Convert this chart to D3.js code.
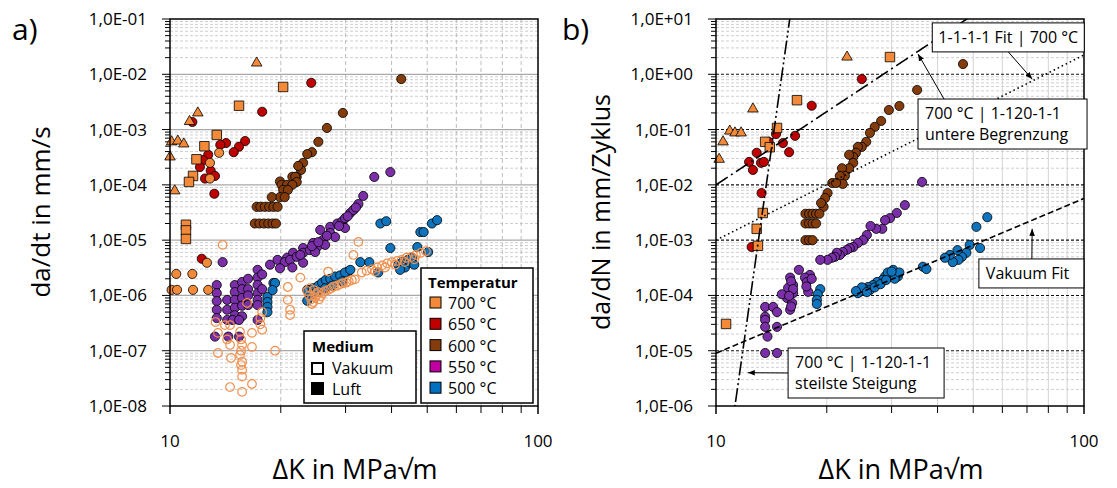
<!DOCTYPE html>
<html>
<head>
<meta charset="utf-8">
<script src="https://cdn.jsdelivr.net/npm/d3@7"></script>
<style>
  body { margin: 0; background: #fff; }
  svg { display: block; }
  text { font-family: "Open Sans", "DejaVu Sans", sans-serif; fill: #000; }
</style>
</head>
<body>
<svg id="chart" width="1117" height="488"></svg>
<script>
// ---------- axis ticks ----------
const kTicks = [10, 100];
const rateTicksA = [1e-8, 1e-7, 1e-6, 1e-5, 1e-4, 1e-3, 1e-2, 1e-1];
const rateTicksB = [1e-6, 1e-5, 1e-4, 1e-3, 1e-2, 1e-1, 1e0, 1e1];

// ---------- a) da/dt [ΔK in MPa√m, da/dt in mm/s] ----------
const dtTri700 = [[17.2,1.6e-2],[11.9,2.0e-3],[11.3,1.4e-3],[10.1,6.0e-4],[10.5,6.2e-4],[10.9,5.5e-4],[10.0,3.2e-4],[10.3,7.8e-5]];
const dtSq700 = [[20.3,5.9e-3],[15.4,2.7e-3],[13.4,8.0e-4],[12.4,5.0e-4],[11.8,2.9e-4],[11.55,1.45e-4],[11.26,1.13e-4],[11.05,1.9e-5],[11.05,1.5e-5],[11.05,1.05e-5]];
const dtAir700 = [[13.6,3.8e-4],[12.84,2.5e-4],[12.84,1.3e-4],[12.6,3.9e-6],[10.4,2.45e-6],[11.5,2.45e-6],[10.1,1.26e-6],[10.45,1.26e-6],[11.55,1.26e-6],[12.7,1.26e-6]];
const dt650 = [[24.2,7.0e-3],[17.8,2.1e-3],[11.5,1.37e-3],[16.0,6.2e-4],[15.4,4.9e-4],[14.9,3.9e-4],[14.2,5.7e-4],[13.7,5.3e-4],[12.7,3.5e-4],[12.3,2.8e-4],[12.06,2.1e-4],[12.9,1.8e-4],[13.25,1.45e-4],[12.45,1.3e-4],[13.2,6.9e-5],[12.2,4.6e-6]];
const dt600 = [[42.5,8.2e-3],[29.5,2.0e-3],[26.7,1.07e-3],[25.3,6.0e-4],[24.3,3.9e-4],[23.6,3.6e-4],[23.0,2.5e-4],[22.7,1.86e-4],[22.3,2.2e-4],[22.1,1.4e-4],[21.5,1.4e-4],[21.9,1.4e-4],[22.1,1.13e-4],[19.9,1.15e-4],[20.1,1.0e-4],[20.8,1.0e-4],[21.5,1.0e-4],[20.3,8.1e-5],[20.9,8.1e-5],[19.9,6.0e-5],[18.9,6.0e-5],[20.5,6.0e-5],[17.2,4.0e-5],[17.6,4.0e-5],[18.1,4.0e-5],[18.6,4.0e-5],[19.1,4.0e-5],[19.6,4.0e-5],[17.0,2.0e-5],[17.5,2.0e-5],[18.0,2.0e-5],[18.5,2.0e-5],[19.0,2.0e-5],[19.4,2.0e-5]];
const dt550 = [[13.9,4.0e-6],[18.7,3.6e-6],[19.6,4.4e-6],[20.8,4.8e-6],[21.6,5.9e-6],[23.0,7.2e-6],[24.5,8.9e-6],[25.6,1.53e-5],[27.25,1.74e-5],[28.5,2.0e-5],[29.4,2.2e-5],[29.9,2.5e-5],[30.9,3.1e-5],[31.5,3.5e-5],[32.5,4.5e-5],[33.5,6.3e-5],[35.9,1.39e-4],[39.7,1.7e-4],
  [20.5,4.0e-6],[21.2,4.4e-6],[22.1,5.0e-6],[23.0,5.9e-6],[24.0,6.6e-6],[25.1,7.5e-6],[26.0,1.0e-5],[27.25,1.35e-5],[19.9,3.1e-6],[21.5,3.2e-6],[23.0,3.9e-6],[24.8,6.1e-6],[26.4,8.2e-6],[28.1,1.14e-5],[29.9,1.66e-5],
  [22.6,5.4e-6],[24.3,7.8e-6],[25.3,9.2e-6],[26.7,1.2e-5],[28.8,1.8e-5],[30.4,2.7e-5],[32.0,3.9e-5],
  [13.4,1.54e-6],[13.4,1.1e-6],[13.4,7.9e-7],[13.4,5.5e-7],[13.4,3.9e-7],[14.3,8.3e-7],[14.3,5.5e-7],[14.3,3.6e-7],
  [15.0,1.54e-6],[15.0,1.15e-6],[15.0,8.3e-7],[15.0,6.0e-7],[15.0,4.4e-7],[15.7,1.75e-6],[15.7,1.3e-6],[15.7,9.0e-7],[15.7,6.5e-7],[15.7,4.2e-7],
  [16.3,2.0e-6],[16.3,1.3e-6],[16.3,1.0e-6],[16.3,6.7e-7],[17.3,2.9e-6],[17.3,2.1e-6],[17.3,1.55e-6],[17.3,1.1e-6],[17.3,8.3e-7],[17.3,6.7e-7],
  [17.8,2.4e-6],[17.8,1.3e-6],[14.8,3.6e-7],[15.4,3.6e-7],[17.3,3.6e-7],[13.25,1.8e-7],[14.4,1.8e-7],[15.4,1.8e-7]];
const dt500 = [[37.3,2.0e-5],[38.7,2.2e-5],[47.9,1.4e-5],[48.9,1.4e-5],[51.5,2.0e-5],[53.2,2.3e-5],[39.7,7.2e-6],[32.9,4.0e-6],[34.8,4.0e-6],[47.0,7.5e-6],[50.3,6.1e-6],[30.5,2.7e-6],[36.8,2.6e-6],
  [41.7,3.6e-6],[42.8,4.0e-6],[43.5,3.2e-6],[44.3,4.4e-6],[45.0,3.9e-6],[45.5,4.8e-6],[46.1,3.6e-6],[42.2,2.9e-6],
  [19.1,1.68e-6],[19.3,1.68e-6],[18.4,9.4e-7],[18.4,7.6e-7],[18.4,6.2e-7],[18.4,5.0e-7],[19.0,1.25e-6],
  [23.6,1.26e-6],[24.0,1.0e-6],[24.5,1.35e-6],[25.3,1.5e-6],[25.9,1.7e-6],[26.5,1.9e-6],[27.25,2.0e-6],[28.1,2.2e-6],[29.0,2.3e-6],[29.9,2.6e-6],[30.9,2.9e-6],[25.0,1.15e-6],[26.4,1.35e-6],[27.6,1.5e-6],[29.4,1.8e-6],[23.6,8.0e-7]];
const dtVac700 = [[13.5,2.1e-7],[14.56,2.9e-7],[15.5,2.2e-7],[16.7,2.1e-7],[17.6,3.9e-7],[17.8,2.4e-7],[15.7,1.27e-7],[14.56,1.27e-7],[14.65,7.4e-8],[15.7,6.3e-8],[15.7,4.5e-8],[15.7,3.4e-8],[14.56,2.2e-8],[15.7,1.8e-8],[16.7,2.5e-8],[13.5,9.1e-8],[16.7,1.17e-7],[19.3,1.0e-7],
  [13.9,8.2e-6],[22.6,2.1e-6],[20.9,1.42e-6],[20.9,8.3e-7],[21.2,5.5e-7],[21.2,4.4e-7],[26.9,2.7e-6],[32.5,9.3e-6],[31.5,5.4e-6],
  [14.1,2.9e-7],[16.2,7.3e-7],[15.5,8.4e-8],[15.6,5.5e-8],[15.6,1.6e-7],[15.6,1.0e-7],[14.3,1.6e-7],[17.6,3.0e-7],[17.8,5.0e-7],[13.3,3.3e-7],
  [23.6,1.2e-6],[23.9,1.0e-6],[24.2,8.5e-7],[24.5,7.6e-7],[24.8,9.2e-7],[25.1,1.05e-6],[25.4,8.5e-7],[25.7,9.6e-7],[26.0,1.1e-6],[24.0,1.35e-6],[24.6,1.25e-6],[25.3,1.15e-6],[24.3,7.0e-7],[26.4,1.2e-6],
  [26.9,1.25e-6],[27.4,1.35e-6],[27.9,1.45e-6],[28.5,1.5e-6],[29.0,1.6e-6],[29.5,1.65e-6],[30.1,1.7e-6],[30.6,1.8e-6],[31.2,1.9e-6],[31.8,1.95e-6],
  [33.2,2.6e-6],[34.2,2.8e-6],[35.4,2.95e-6],[36.6,3.2e-6],[37.7,3.5e-6],[38.9,3.8e-6],[40.1,4.0e-6],[41.4,4.2e-6],[42.6,4.4e-6],[43.9,4.8e-6],[45.3,5.0e-6],[46.6,5.4e-6],[48.1,5.9e-6],[49.6,6.3e-6],[36.1,2.7e-6],[38.4,3.2e-6],[40.9,3.6e-6],[43.4,4.0e-6],[46.1,4.5e-6]];

// ---------- b) da/dN [ΔK in MPa√m, da/dN in mm/Zyklus] ----------
const dnTri700 = [[22.7,2.05],[12.6,0.236],[10.9,0.094],[11.26,0.087],[11.7,0.087],[10.45,0.060],[10.2,0.029]];
const dnSq700 = [[29.7,2.05],[16.6,0.34],[14.65,0.107],[13.6,0.060],[14.0,0.048],[13.4,3.1e-3],[12.9,1.6e-3],[13.0,7.9e-4],[10.65,3.05e-5]];
const dn650 = [[24.9,0.82],[18.2,0.27],[16.4,0.077],[15.2,0.057],[15.8,0.039],[14.56,0.083],[13.9,0.060],[12.9,0.038],[12.3,0.026],[12.6,0.0186],[13.25,0.025],[13.5,0.026],[13.3,7.1e-3],[12.5,7.5e-4]];
const dn600 = [[46.9,1.53],[35.2,0.52],[31.5,0.267],[29.5,0.226],[28.1,0.143],[27.0,0.112],[26.2,0.087],[25.6,0.060],[24.9,0.0485],[24.3,0.0485],[24.0,0.038],[23.6,0.032],[23.0,0.035],[23.6,0.025],[23.0,0.020],[22.0,0.020],[22.4,0.0145],[21.7,0.0145],[22.1,0.0104],[20.7,0.0108],[21.2,0.0108],[20.1,7.1e-3],[19.8,5.8e-3],[19.6,4.0e-3],[19.3,4.7e-3],
  [17.5,3.0e-3],[17.9,3.0e-3],[18.3,3.0e-3],[18.7,3.0e-3],[19.1,3.0e-3],[17.5,2.0e-3],[17.9,2.0e-3],[18.3,2.0e-3],[18.7,2.0e-3],[17.5,1.0e-3],[17.9,1.0e-3],[18.3,1.0e-3]];
const dn550 = [[36.3,0.0113],[32.6,4.3e-3],[31.0,3.1e-3],[29.7,2.5e-3],[28.8,2.3e-3],[28.3,1.6e-3],[27.25,1.6e-3],[26.3,1.8e-3],[25.7,1.24e-3],[25.1,1.0e-3],[24.3,8.9e-4],[23.6,7.5e-4],[23.1,7.2e-4],[22.7,6.7e-4],[22.1,6.1e-4],[21.7,5.4e-4],[21.3,5.9e-4],[21.05,5.0e-4],[20.65,4.8e-4],[20.1,4.4e-4],[19.2,4.4e-4],
  [16.8,2.9e-4],[18.0,2.35e-4],[17.45,2.1e-4],[17.65,1.75e-4],[17.8,1.16e-4],[15.9,2.1e-4],[16.2,1.54e-4],[15.7,1.37e-4],[16.2,1.1e-4],[15.6,9.0e-5],[16.1,7.3e-5],[15.9,5.5e-5],[15.1,1.05e-4],
  [13.6,6.2e-5],[14.3,6.2e-5],[14.65,5.0e-5],[13.6,4.1e-5],[13.6,3.6e-5],[13.6,2.7e-5],[14.65,2.7e-5],[13.8,1.8e-5],[13.6,9.1e-6],[14.65,9.1e-6],
  [16.0,1.8e-4],[16.2,1.3e-4],[15.8,9.8e-5],[16.0,6.3e-5],[18.2,2.0e-4],[17.6,1.45e-4]];
const dn500 = [[54.6,2.6e-3],[51.0,1.74e-3],[52.2,7.2e-4],[48.9,8.2e-4],[47.9,5.9e-4],[46.6,5.0e-4],[45.6,4.4e-4],[44.0,4.0e-4],[43.2,5.4e-4],[45.3,6.6e-4],[41.9,4.8e-4],[36.5,3.3e-4],[37.3,3.0e-4],
  [31.2,2.2e-4],[30.3,2.9e-4],[29.7,2.35e-4],[28.8,2.2e-4],[28.3,1.9e-4],[27.4,1.75e-4],[26.7,1.54e-4],[25.9,1.42e-4],[25.4,1.3e-4],[24.6,1.16e-4],[24.3,1.1e-4],
  [19.2,1.3e-4],[18.9,1.05e-4],[18.8,8.3e-5],[18.8,7.0e-5],[29.3,2.6e-4],[30.6,2.0e-4],[26.2,1.25e-4],[27.0,1.4e-4],[24.9,1.4e-4],[25.7,1.15e-4],[28.0,1.6e-4],[29.0,1.9e-4],[31.5,2.6e-4],[30.0,2.7e-4],[24.0,1.2e-4]];

// power-law lines da/dN = C * ΔK^m (drawn over the ΔK range)
const fitLines = [
  { name: "fit1111",    C: 1e-2 / Math.pow(10, 4.4),   m: 4.4,  dash: "14,4,2,4" },
  { name: "lowerBound", C: 1e-3 / Math.pow(10, 3.35),  m: 3.35, dash: "1.5,3" },
  { name: "vacuumFit",  C: 9e-6 / Math.pow(10, 2.8),   m: 2.8,  dash: "6,3" },
  { name: "steepest",   C: 1e-6 / Math.pow(11.26, 47), m: 47,   dash: "14,3,2,3,2,3" }
];

const temperatures = ["700 °C", "650 °C", "600 °C", "550 °C", "500 °C"];
const legendColors = ["#F28A3A", "#C00000", "#843C0C", "#C000A0", "#0070C0"];
const color = { t700: "#F28A3A", t650: "#C00000", t600: "#843C0C", t550: "#7A2FA8", t500: "#0E74BE", vac: "#F0904E" };

// ---------- drawing ----------
const svg = d3.select("#chart");
const PLOT_TOP = 19, PLOT_BOTTOM = 406, PLOT_W = 368;

function fmtRate(v) {
  const e = Math.round(Math.log10(v));
  const s = e < 0 ? "-" : "+";
  return "1,0E" + s + String(Math.abs(e)).padStart(2, "0");
}

function makePanel(opt) {
  const g = svg.append("g");
  const x = d3.scaleLog().domain([10, 100]).range([opt.left, opt.left + PLOT_W]);
  const y = d3.scaleLog().domain(opt.yDomain).range([PLOT_BOTTOM, PLOT_TOP]);
  const e0 = Math.round(Math.log10(opt.yDomain[0])), e1 = Math.round(Math.log10(opt.yDomain[1]));

  const minorY = [], majorY = [];
  for (let e = e0; e <= e1; e++) {
    majorY.push(Math.pow(10, e));
    if (e < e1) for (let m = 2; m <= 9; m++) minorY.push(m * Math.pow(10, e));
  }
  const minorX = d3.range(2, 10).map(m => m * 10);

  const grid = g.append("g");
  grid.selectAll(".gyminor").data(minorY).join("line")
    .attr("x1", x(10)).attr("x2", x(100))
    .attr("y1", d => y(d)).attr("y2", d => y(d))
    .attr("stroke", "#cfcfcf").attr("stroke-width", 1).attr("stroke-dasharray", "3,2");
  grid.selectAll(".gx").data(minorX).join("line")
    .attr("x1", d => x(d)).attr("x2", d => x(d))
    .attr("y1", PLOT_TOP).attr("y2", PLOT_BOTTOM)
    .attr("stroke", opt.vGridColor).attr("stroke-width", 1)
    .attr("stroke-dasharray", opt.vGridDash);
  grid.selectAll(".gymajor").data(majorY.slice(1, -1)).join("line")
    .attr("x1", x(10)).attr("x2", x(100))
    .attr("y1", d => y(d)).attr("y2", d => y(d))
    .attr("stroke", opt.majorColor).attr("stroke-width", opt.majorWidth)
    .attr("stroke-dasharray", opt.majorDash);

  // y ticks and labels
  const ax = g.append("g");
  ax.selectAll(".tmin").data(minorY).join("line")
    .attr("x1", x(10) - 5).attr("x2", x(10)).attr("y1", d => y(d)).attr("y2", d => y(d))
    .attr("stroke", "#000").attr("stroke-width", 1);
  ax.selectAll(".tmaj").data(majorY).join("line")
    .attr("x1", x(10) - 8).attr("x2", x(10)).attr("y1", d => y(d)).attr("y2", d => y(d))
    .attr("stroke", "#000").attr("stroke-width", 1);
  ax.selectAll(".ylab").data(opt.yTicks).join("text")
    .attr("x", x(10) - 23).attr("y", d => y(d) + 6)
    .attr("text-anchor", "end").attr("font-size", 17).text(fmtRate);

  // x ticks and labels
  ax.selectAll(".xt").data(minorX).join("line")
    .attr("x1", d => x(d)).attr("x2", d => x(d)).attr("y1", PLOT_BOTTOM).attr("y2", PLOT_BOTTOM + 7)
    .attr("stroke", "#000").attr("stroke-width", 1);
  ax.selectAll(".xtm").data(kTicks).join("line")
    .attr("x1", d => x(d)).attr("x2", d => x(d)).attr("y1", PLOT_BOTTOM).attr("y2", PLOT_BOTTOM + 8)
    .attr("stroke", "#000").attr("stroke-width", 1.5);
  ax.selectAll(".xlab").data(kTicks).join("text")
    .attr("x", d => x(d)).attr("y", 447).attr("text-anchor", "middle")
    .attr("font-size", 17).text(d => d);

  return { g, x, y };
}

function drawSeries(p, data, shape, fill, opts = {}) {
  const sym = d3.symbol().type(shape).size(opts.size || 66);
  p.g.append("g").selectAll("path").data(data).join("path")
    .attr("transform", d => `translate(${p.x(d[0])},${p.y(d[1])})`)
    .attr("d", sym)
    .attr("fill", fill)
    .attr("stroke", opts.stroke || "#000")
    .attr("stroke-width", opts.strokeWidth || 0.8);
}

function drawFrame(p) {
  const [x0, x1] = p.x.range();
  p.g.append("rect").attr("x", x0).attr("y", PLOT_TOP)
    .attr("width", x1 - x0).attr("height", PLOT_BOTTOM - PLOT_TOP)
    .attr("fill", "none").attr("stroke", "#000").attr("stroke-width", 1.5);
}

// ---------- panel a ----------
const A = makePanel({
  left: 170, yDomain: [1e-8, 1e-1], yTicks: rateTicksA,
  vGridColor: "#bdbdbd", vGridDash: "4,3",
  majorColor: "#a9a9a9", majorWidth: 1.3, majorDash: null
});
drawSeries(A, dt550, d3.symbolCircle, color.t550);
drawSeries(A, dt500, d3.symbolCircle, color.t500);
drawSeries(A, dt600, d3.symbolCircle, color.t600);
drawSeries(A, dt650, d3.symbolCircle, color.t650);
drawSeries(A, dtAir700, d3.symbolCircle, color.t700);
drawSeries(A, dtVac700, d3.symbolCircle, "none", { stroke: color.vac, strokeWidth: 1.2, size: 58 });
drawSeries(A, dtSq700, d3.symbolSquare, color.t700, { size: 90 });
drawSeries(A, dtTri700, d3.symbolTriangle, color.t700, { size: 48 });
drawFrame(A);

// ---------- panel b ----------
const B = makePanel({
  left: 716, yDomain: [1e-6, 1e1], yTicks: rateTicksB,
  vGridColor: "#d4d4d4", vGridDash: null,
  majorColor: "#111", majorWidth: 1.1, majorDash: "3,2"
});
const clipB = svg.append("clipPath").attr("id", "clipB");
clipB.append("rect").attr("x", B.x(10)).attr("y", PLOT_TOP).attr("width", PLOT_W).attr("height", PLOT_BOTTOM - PLOT_TOP);

drawSeries(B, dn550, d3.symbolCircle, color.t550);
drawSeries(B, dn500, d3.symbolCircle, color.t500);
drawSeries(B, dn600, d3.symbolCircle, color.t600);
drawSeries(B, dn650, d3.symbolCircle, color.t650);
drawSeries(B, dnSq700, d3.symbolSquare, color.t700, { size: 90 });
drawSeries(B, dnTri700, d3.symbolTriangle, color.t700, { size: 48 });

const kGrid = d3.range(0, 401).map(i => 10 * Math.pow(10, i / 400));
const lineGen = d3.line().x(d => B.x(d[0])).y(d => B.y(d[1]));
B.g.append("g").attr("clip-path", "url(#clipB)").selectAll("path").data(fitLines).join("path")
  .attr("d", f => lineGen(kGrid.map(k => [k, f.C * Math.pow(k, f.m)]).filter(d => d[1] > 1e-7 && d[1] < 1e2)))
  .attr("fill", "none").attr("stroke", "#000").attr("stroke-width", 1.6)
  .attr("stroke-dasharray", f => f.dash);
drawFrame(B);

// annotations in panel b (anchors in data units)
const notes = [
  { lines: ["1-1-1-1 Fit | 700 °C"], at: [38.7, 8.5], w: 152, h: 29, tail: "bottom", off: 76, tip: [72.3, 0.82], align: "middle" },
  { lines: ["700 °C | 1-120-1-1", "untere Begrenzung"], at: [35.4, 0.357], w: 169, h: 50, tail: "top", off: 26, tip: [35.4, 2.33], align: "start" },
  { lines: ["Vakuum Fit"], at: [51.8, 4.57e-4], w: 105, h: 29, tail: "top", off: 53, tip: [72.3, 1.6e-3], align: "start" },
  { lines: ["700 °C | 1-120-1-1", "steilste Steigung"], at: [15.7, 1.12e-5], w: 156, h: 50, tail: "left", off: 25, tip: [12.2, 4.0e-6], align: "start" }
];
const defs = svg.append("defs");
defs.append("marker").attr("id", "arrowHead").attr("viewBox", "0 0 10 10")
  .attr("refX", 10).attr("refY", 5).attr("markerWidth", 7).attr("markerHeight", 7)
  .attr("orient", "auto-start-reverse").attr("markerUnits", "userSpaceOnUse")
  .append("path").attr("d", "M0,1 L10,5 L0,9 Z").attr("fill", "#000");

const noteG = svg.append("g");
notes.forEach(n => {
  const bx = B.x(n.at[0]), by = B.y(n.at[1]);
  let tx, ty;
  if (n.tail === "bottom") { tx = bx + n.off; ty = by + n.h; }
  else if (n.tail === "top") { tx = bx + n.off; ty = by; }
  else { tx = bx; ty = by + n.off; }
  noteG.append("line").attr("x1", tx).attr("y1", ty)
    .attr("x2", B.x(n.tip[0])).attr("y2", B.y(n.tip[1]))
    .attr("stroke", "#000").attr("stroke-width", 1).attr("marker-end", "url(#arrowHead)");
  noteG.append("rect").attr("x", bx).attr("y", by).attr("width", n.w).attr("height", n.h)
    .attr("fill", "#fff").attr("stroke", "#000").attr("stroke-width", 1);
  n.lines.forEach((t, i) => {
    noteG.append("text")
      .attr("x", n.align === "middle" ? bx + n.w / 2 : bx + 7)
      .attr("y", by + 20 + i * 21)
      .attr("text-anchor", n.align).attr("font-size", 16).text(t);
  });
});

// ---------- legends in panel a ----------
const legM = svg.append("g");
legM.append("rect").attr("x", 304).attr("y", 331).attr("width", 112).attr("height", 72)
  .attr("fill", "#fff").attr("stroke", "#000").attr("stroke-width", 1.5);
legM.append("text").attr("x", 312).attr("y", 352).attr("font-size", 15).attr("font-weight", "bold").text("Medium");
legM.append("rect").attr("x", 312).attr("y", 363).attr("width", 11).attr("height", 11)
  .attr("fill", "#fff").attr("stroke", "#000").attr("stroke-width", 2);
legM.append("text").attr("x", 332).attr("y", 374).attr("font-size", 16).text("Vakuum");
legM.append("rect").attr("x", 311).attr("y", 382).attr("width", 13).attr("height", 13).attr("fill", "#000");
legM.append("text").attr("x", 332).attr("y", 395).attr("font-size", 16).text("Luft");

const legT = svg.append("g");
legT.append("rect").attr("x", 421).attr("y", 268).attr("width", 112).attr("height", 135)
  .attr("fill", "#fff").attr("stroke", "#000").attr("stroke-width", 1.5);
legT.append("text").attr("x", 428).attr("y", 288).attr("font-size", 15).attr("font-weight", "bold").text("Temperatur");
legT.selectAll(".sw").data(temperatures).join("rect")
  .attr("x", 430).attr("y", (d, i) => 297 + i * 21.3).attr("width", 11).attr("height", 11)
  .attr("fill", (d, i) => legendColors[i]).attr("stroke", "#000").attr("stroke-width", 1);
legT.selectAll(".lt").data(temperatures).join("text")
  .attr("x", 448).attr("y", (d, i) => 309 + i * 21.3).attr("font-size", 16).text(d => d);

// ---------- panel letters and axis titles ----------
svg.append("text").attr("x", 12).attr("y", 40).attr("font-size", 30).text("a)");
svg.append("text").attr("x", 562).attr("y", 40).attr("font-size", 30).text("b)");
svg.append("text").attr("transform", "translate(50,212) rotate(-90)")
  .attr("text-anchor", "middle").attr("font-size", 26).text("da/dt in mm/s");
svg.append("text").attr("transform", "translate(610,212) rotate(-90)")
  .attr("text-anchor", "middle").attr("font-size", 25).text("da/dN in mm/Zyklus");
svg.append("text").attr("x", 355).attr("y", 479).attr("text-anchor", "middle").attr("font-size", 27).text("ΔK in MPa√m");
svg.append("text").attr("x", 901).attr("y", 479).attr("text-anchor", "middle").attr("font-size", 27).text("ΔK in MPa√m");
</script>
</body>
</html>
